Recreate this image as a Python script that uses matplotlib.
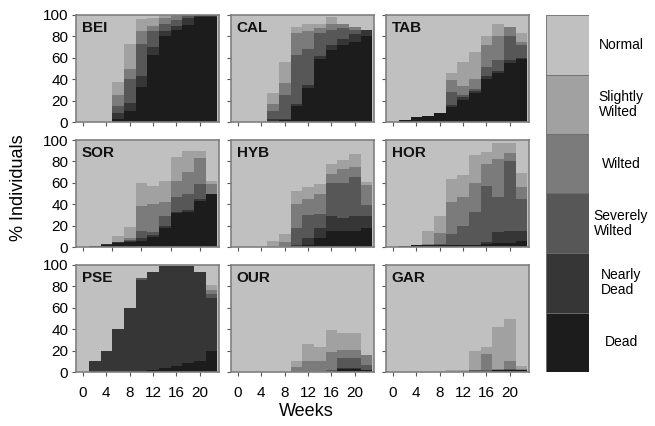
import numpy as np
import matplotlib
matplotlib.use("Agg")
import matplotlib.pyplot as plt

plt.rcParams['font.family'] = ['Liberation Sans', 'DejaVu Sans']

weeks = np.arange(0, 24, 2)

# wilt classes, bottom of the stack first; "Normal" is whatever is left up to 100 %
classes = ['Dead', 'Nearly\nDead', 'Severely\nWilted', 'Wilted', 'Slightly\nWilted', 'Normal']
shades = ['#1c1c1c', '#363636', '#575757', '#7b7b7b', '#a1a1a1', '#c0c0c0']

sites = ['BEI', 'CAL', 'TAB', 'SOR', 'HYB', 'HOR', 'PSE', 'OUR', 'GAR']

# rows: dead, nearly dead, severely wilted, wilted, slightly wilted (% of plants per week)
bei = [[0, 0, 0, 3, 10, 33, 63, 80, 86, 91, 98, 98],
       [0, 0, 0, 5, 8, 10, 7, 5, 4, 6, 2, 2],
       [0, 0, 0, 7, 22, 30, 15, 7, 5, 3, 0, 0],
       [0, 0, 0, 10, 10, 12, 5, 5, 5, 0, 0, 0],
       [0, 0, 0, 12, 23, 11, 7, 3, 0, 0, 0, 0]]
cal = [[0, 0, 0, 0, 2, 15, 32, 59, 67, 72, 75, 80],
       [0, 0, 0, 3, 1, 2, 3, 3, 5, 6, 7, 6],
       [0, 0, 0, 7, 22, 46, 33, 21, 14, 10, 4, 0],
       [0, 0, 0, 7, 11, 20, 17, 5, 6, 4, 3, 0],
       [0, 0, 0, 10, 20, 6, 7, 4, 6, 0, 0, 0]]
tab = [[0, 2, 5, 6, 8, 14, 21, 27, 40, 46, 55, 59],
       [0, 0, 0, 0, 0, 2, 2, 2, 3, 2, 3, 1],
       [0, 0, 0, 0, 0, 12, 2, 2, 8, 10, 22, 12],
       [0, 0, 0, 0, 0, 11, 9, 9, 21, 22, 9, 3],
       [0, 0, 0, 0, 0, 7, 22, 25, 8, 12, 0, 8]]
sor = [[0, 1, 2, 4, 5, 6, 9, 18, 32, 33, 43, 50],
       [0, 0, 1, 1, 1, 2, 2, 2, 1, 2, 2, 0],
       [0, 0, 0, 0, 1, 7, 3, 9, 14, 15, 14, 0],
       [0, 0, 0, 0, 1, 23, 26, 13, 15, 20, 24, 9],
       [0, 0, 0, 5, 11, 22, 17, 20, 22, 20, 7, 3]]
hyb = [[0, 0, 0, 0, 0, 0, 2, 8, 15, 15, 15, 18],
       [0, 0, 0, 0, 0, 2, 6, 10, 14, 12, 14, 11],
       [0, 0, 0, 0, 0, 16, 22, 13, 31, 33, 36, 10],
       [0, 0, 0, 0, 5, 22, 15, 19, 8, 13, 10, 19],
       [0, 0, 0, 6, 7, 12, 11, 9, 10, 8, 12, 3]]
hor = [[0, 1, 2, 2, 2, 2, 2, 2, 3, 4, 4, 6],
       [0, 0, 0, 0, 0, 0, 0, 0, 2, 10, 11, 9],
       [0, 0, 0, 0, 1, 10, 18, 31, 52, 33, 65, 30],
       [0, 0, 0, 1, 10, 30, 27, 27, 21, 35, 8, 11],
       [0, 0, 0, 12, 16, 22, 20, 26, 11, 15, 9, 13]]
pse = [[0, 0, 0, 0, 0, 0, 2, 4, 6, 8, 10, 20],
       [0, 10, 20, 40, 60, 86, 91, 95, 93, 91, 83, 49],
       [0, 0, 0, 0, 0, 2, 0, 0, 0, 0, 0, 4],
       [0, 0, 0, 0, 0, 0, 0, 0, 0, 0, 0, 4],
       [0, 0, 0, 0, 0, 0, 0, 0, 0, 0, 0, 4]]
our = [[0, 0, 0, 0, 0, 0, 0, 0, 0, 3, 3, 2],
       [0, 0, 0, 0, 0, 0, 0, 0, 0, 1, 1, 0],
       [0, 0, 0, 0, 0, 0, 0, 0, 2, 9, 9, 5],
       [0, 0, 0, 0, 0, 5, 10, 10, 17, 8, 8, 9],
       [0, 0, 0, 0, 0, 5, 16, 13, 20, 15, 15, 0]]
gar = [[0, 0, 0, 0, 0, 0, 0, 0, 0, 2, 2, 2],
       [0, 0, 0, 0, 0, 0, 0, 0, 0, 0, 0, 0],
       [0, 0, 0, 0, 0, 0, 0, 2, 2, 0, 1, 0],
       [0, 0, 0, 0, 0, 0, 0, 0, 15, 1, 7, 1],
       [0, 0, 0, 0, 0, 2, 2, 18, 6, 39, 40, 3]]

site_data = [bei, cal, tab, sor, hyb, hor, pse, our, gar]

W, H = 655, 426
fig = plt.figure(figsize=(W / 100, H / 100), dpi=100)

col_left = [76, 231, 386]
row_top = [15, 140, 265]
pw, ph = 143, 107
frame = '#808080'
edges = np.append(weeks - 1, weeks[-1] + 1)

for i, (name, data) in enumerate(zip(sites, site_data)):
    r, c = divmod(i, 3)
    ax = fig.add_axes([col_left[c] / W, 1 - (row_top[r] + ph) / H, pw / W, ph / H])
    ax.set_facecolor(shades[-1])
    base = np.zeros(len(weeks))
    for vals, col in zip(data, shades):
        top = base + np.array(vals)
        ax.stairs(top, edges, baseline=base, fill=True, color=col, linewidth=0)
        base = top
    ax.set_xlim(-1.2, 23.3)
    ax.set_ylim(0, 100)
    ax.set_yticks(range(0, 101, 20))
    if name == 'SOR':
        ax.set_xticks(range(0, 21, 5))
    else:
        ax.set_xticks(range(0, 21, 4))
    ax.tick_params(direction='out', length=3, width=0.8, color='#555555',
                   labelsize=11, pad=2.5)
    ax.tick_params(axis='x', pad=7)
    if r < 2:
        ax.set_xticklabels([])
    if c > 0:
        ax.set_yticklabels([])
    for s in ax.spines.values():
        s.set_color(frame)
        s.set_linewidth(1.2)
    ax.text(0.04, 0.875, name, transform=ax.transAxes, fontsize=11,
            fontweight='bold', va='center', ha='left', color='#111111')

fig.text(19 / W, 1 - 188 / H, '% Individuals', rotation=90, ha='center',
         va='center', fontsize=13)
fig.text(306 / W, 1 - 411 / H, 'Weeks', ha='center', va='center', fontsize=13)

# key: one shaded block per class with its name beside it
lax = fig.add_axes([546 / W, 1 - 372 / H, 43 / W, 357 / H])
for k, col in enumerate(shades):
    lax.bar(0, 1, bottom=k, width=1, color=col, edgecolor='#6a6a6a', linewidth=0.6)
    fig.text(621 / W, 1 - (372 - (k + 0.5) * 357 / 6) / H, classes[k],
             ha='center', va='center', fontsize=10, linespacing=1.1,
             multialignment='left')
lax.set_xlim(-0.5, 0.5)
lax.set_ylim(0, 6)
lax.axis('off')

fig.savefig('out.png', dpi=100)
